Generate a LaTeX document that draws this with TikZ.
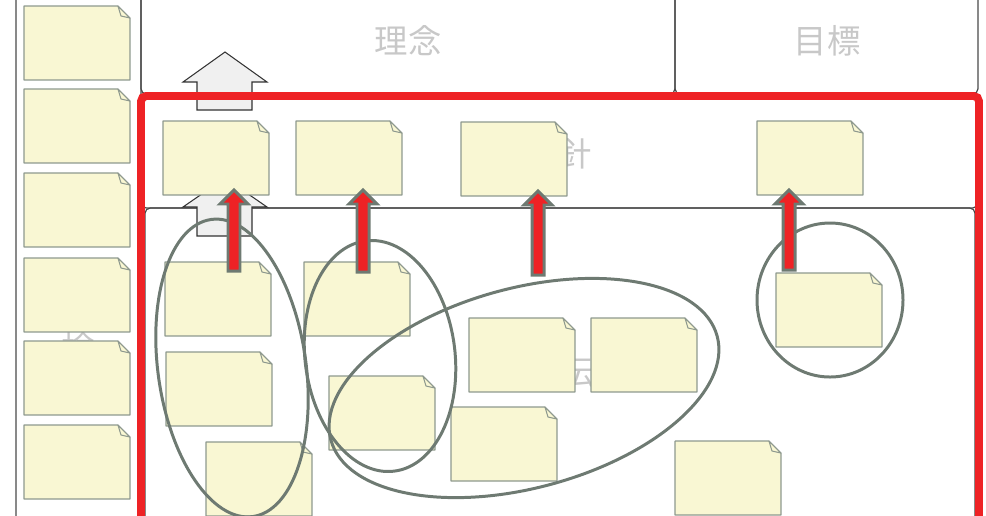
\documentclass[tikz,border=0pt]{standalone}
\usepackage{fontspec}
\newfontfamily\jpfont{Noto Sans CJK JP}
\usetikzlibrary{calc}
\definecolor{notefill}{HTML}{F9F7D3}
\definecolor{noteline}{HTML}{8E998E}
\definecolor{ringgray}{HTML}{6E7A72}
\definecolor{framered}{HTML}{EE2225}
\definecolor{labelgray}{HTML}{C8C8C8}
\definecolor{boxline}{HTML}{4A4A4A}
\definecolor{hollowfill}{HTML}{F0F0F0}
% sticky note: name, top left corner
\newcommand{\stickynote}[2]{%
  \node[notebox] (#1) at (#2) {};
  \filldraw[notepaper] (#1.south west) -- (#1.north west) -- ([shift={(-12,0)}]#1.north east)
    -- ([shift={(0,12)}]#1.north east) -- (#1.south east) -- cycle;
  \filldraw[notepaper] ([shift={(-12,0)}]#1.north east) -- ([shift={(-9,10)}]#1.north east)
    -- ([shift={(0,12)}]#1.north east) -- cycle;}
% red block arrow: start coordinate, note above
\newcommand{\redup}[2]{%
  \filldraw[redarrow] ($(#1)+(-6,0)$) -- ($(#1 |- #2.south)+(-6,9)$) -- ($(#1 |- #2.south)+(-14,9)$)
    -- ($(#1 |- #2.south)+(0,-5)$) -- ($(#1 |- #2.south)+(14,9)$) -- ($(#1 |- #2.south)+(6,9)$)
    -- ($(#1)+(6,0)$) -- cycle;}
\begin{document}
\begin{tikzpicture}[x=0.02cm,y=-0.02cm,
    bandbox/.style={draw=boxline,line width=0.7pt,rounded corners=3pt},
    bandtext/.style={font=\jpfont\fontsize{19pt}{23pt}\selectfont,text=labelgray,inner sep=0pt},
    notebox/.style={minimum width=2.12cm,minimum height=1.48cm,inner sep=0pt,outer sep=0pt,anchor=north west},
    notepaper/.style={draw=noteline,fill=notefill,line width=0.6pt,line join=round},
    hollow/.style={draw=black!80,fill=hollowfill,line width=0.6pt},
    redframe/.style={draw=framered,line width=4.5pt,rounded corners=3pt},
    ring/.style={draw=ringgray,line width=1.7pt},
    redarrow/.style={draw=ringgray,fill=framered,line width=1.7pt}]
  \useasboundingbox (0,0) rectangle (986,515);
  % bands
  \draw[bandbox] (16,-10) rectangle (141,540);
  \draw[bandbox] (141,-10) rectangle (675,94);
  \draw[bandbox] (675,-10) rectangle (978,94);
  \draw[bandbox] (141,96) rectangle (978,208);
  \draw[bandbox] (145,208) rectangle (975,540);
  \node[bandtext] (rinen) at (408,41) {理念};
  \node[bandtext] (mokuhyo) at (827,41) {目標};
  \node[bandtext] (hoshin) at (558,154) {方針};
  \node[bandtext,align=center,anchor=north] (kento) at (78,332) {検\\討};
  \node[bandtext] (senden) at (560,372) {宣伝};
  % hollow arrows
  \draw[hollow] (197,110) -- (197,82) -- (183,82) -- (225,52) -- (267,82) -- (252,82) -- (252,110) -- cycle;
  \draw[hollow] (197,236) -- (197,207) -- (183,207) -- (225,178) -- (267,207) -- (252,207) -- (252,236) -- cycle;
  % notes
  \stickynote{l1}{24,6}
  \stickynote{l2}{24,89}
  \stickynote{l3}{24,173}
  \stickynote{l4}{24,258}
  \stickynote{l5}{24,341}
  \stickynote{l6}{24,425}
  \stickynote{u1}{163,121}
  \stickynote{u2}{296,121}
  \stickynote{u3}{461,122}
  \stickynote{u4}{757,121}
  \stickynote{m1}{165,262}
  \stickynote{m2}{304,262}
  \stickynote{m3}{166,352}
  \stickynote{m4}{329,376}
  \stickynote{m5}{469,318}
  \stickynote{m6}{591,318}
  \stickynote{m7}{451,407}
  \stickynote{m8}{206,442}
  \stickynote{m9}{675,441}
  \stickynote{m10}{776,273}
  \draw[redframe] (141,96) rectangle (979,560);
  % groups
  \draw[ring,shift={(232,368)},rotate=8] (0,0) ellipse (74 and 150);
  \draw[ring,shift={(380,356)},rotate=7] (0,0) ellipse (75 and 116);
  \draw[ring,shift={(524,388)},rotate=15] (0,0) ellipse (200 and 100);
  \draw[ring] (830,300) ellipse (73 and 77);
  \coordinate (a1) at (234,271);
  \coordinate (a2) at (363,272);
  \coordinate (a3) at (538,275);
  \coordinate (a4) at (789,270);
  \redup{a1}{u1}
  \redup{a2}{u2}
  \redup{a3}{u3}
  \redup{a4}{u4}
\end{tikzpicture}
\end{document}
